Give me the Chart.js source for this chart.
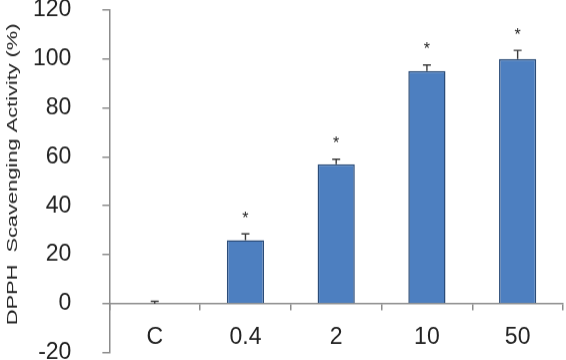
<!DOCTYPE html>
<html>
<head>
<meta charset="utf-8">
<script src="https://cdn.jsdelivr.net/npm/chart.js@4"></script>
<style>
  html, body { margin: 0; padding: 0; background: #fff; overflow: hidden; width: 566px; height: 360px; }
  #wrap { position: relative; width: 566px; height: 360px; }
</style>
</head>
<body>
<div id="wrap"><canvas id="dpphChart"></canvas></div>
<script>
// data
const categories = ['C', '0.4', '2', '10', '50'];
const activity = [0, 26, 57, 95, 100];
const errors = [1, 2.5, 2, 2.5, 3.5];
const marks = ['', '*', '*', '*', '*'];
const yTicks = [-20, 0, 20, 40, 60, 80, 100, 120];
const yTitle = 'DPPH  Scavenging Activity (%)';

const wrap = document.getElementById('wrap');
const ctx = document.getElementById('dpphChart').getContext('2d');
const axisGray = '#8c8c8c';
const fontFamily = '"Liberation Sans", Arial, sans-serif';

// error bars + significance stars
const errorBars = {
    id: 'errorBars',
    afterDatasetsDraw(chart) {
        const { ctx, scales: { x, y } } = chart;
        ctx.save();
        ctx.strokeStyle = '#3a3a3a';
        ctx.lineWidth = 1.4;
        activity.forEach((v, i) => {
            const cx = x.getPixelForValue(i);
            const top = y.getPixelForValue(v + errors[i]);
            const base = y.getPixelForValue(v);
            ctx.beginPath();
            ctx.moveTo(cx, base);
            ctx.lineTo(cx, top);
            ctx.moveTo(cx - 4, top);
            ctx.lineTo(cx + 4, top);
            ctx.stroke();
            if (marks[i]) {
                ctx.fillStyle = '#222';
                ctx.font = '16px ' + fontFamily;
                ctx.textAlign = 'center';
                ctx.textBaseline = 'middle';
                ctx.fillText(marks[i], cx, top - 15);
            }
        });
        ctx.restore();
    }
};

// y title, stretched along its length like the original figure
const sideTitle = {
    id: 'sideTitle',
    afterDraw(chart) {
        const c = chart.ctx;
        const off = -parseFloat(wrap.style.marginTop || 0);
        c.save();
        c.translate(13, 174 + off);
        c.rotate(-Math.PI / 2);
        c.scale(1.45, 1);
        c.fillStyle = '#222';
        c.font = '15px ' + fontFamily;
        c.textAlign = 'center';
        c.textBaseline = 'middle';
        c.fillText(yTitle, 0, 0);
        c.restore();
    }
};

const chart = new Chart(ctx, {
    type: 'bar',
    data: {
        labels: categories,
        datasets: [{
            data: activity,
            backgroundColor: '#4d7fc0',
            borderColor: '#2b4c78',
            borderWidth: 1.5,
            categoryPercentage: 1,
            barPercentage: 0.41
        }]
    },
    options: {
        responsive: true,
        maintainAspectRatio: false,
        animation: false,
        layout: { padding: { top: 0, right: 3, bottom: 0, left: 2 } },
        plugins: {
            legend: { display: false },
            tooltip: { enabled: false }
        },
        scales: {
            x: {
                position: { y: 0 },
                offset: true,
                border: { color: axisGray, width: 1.5 },
                grid: {
                    offset: true,
                    drawOnChartArea: false,
                    tickLength: 6,
                    color: axisGray,
                    lineWidth: 1.5
                },
                ticks: {
                    color: '#222',
                    padding: 14,
                    font: { family: fontFamily, size: 23 }
                }
            },
            y: {
                min: -20,
                max: 120,
                afterBuildTicks: (axis) => { axis.ticks = yTicks.map(v => ({ value: v })); },
                border: { color: axisGray, width: 1.5 },
                grid: {
                    drawOnChartArea: false,
                    tickLength: 7,
                    color: axisGray,
                    lineWidth: 1.5
                },
                ticks: {
                    color: '#222',
                    padding: 31,
                    font: { family: fontFamily, size: 23 }
                }
            }
        }
    },
    plugins: [errorBars, sideTitle]
});

// stretch the plot so 120 sits at y=10 and -20 at y=352
const top0 = chart.chartArea.top;
const bottom0 = chart.chartArea.bottom;
const shift = 10 - top0;
const newHeight = 360 + (352 - shift - bottom0);
wrap.style.marginTop = shift + 'px';
wrap.style.height = newHeight + 'px';
chart.resize(566, newHeight);
</script>
</body>
</html>
